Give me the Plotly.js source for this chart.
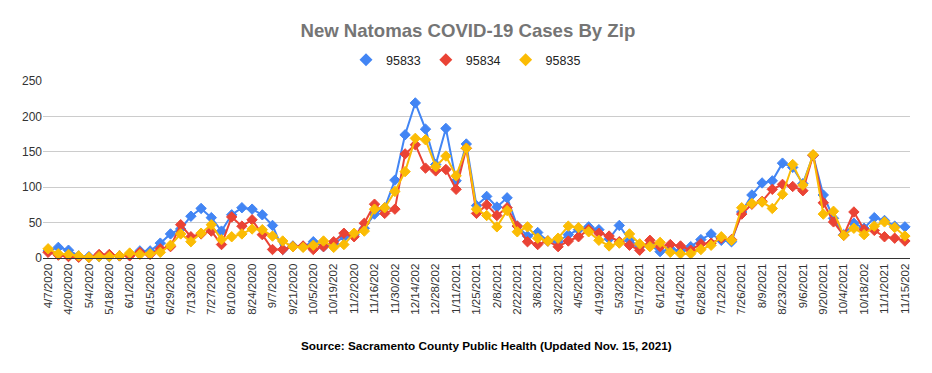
<!DOCTYPE html>
<html>
<head>
<meta charset="utf-8">
<script src="https://cdn.plot.ly/plotly-3.0.1.min.js"></script>
<style>html,body{margin:0;padding:0;background:#fff;}#chart{width:932px;height:373px;}</style>
</head>
<body>
<div id="chart"></div>
<script>
var dates = ["4/7/2020","4/13/2020","4/20/2020","4/27/2020","5/4/2020","5/11/2020","5/18/2020","5/25/2020","6/1/2020","6/8/2020","6/15/2020","6/22/2020","6/29/2020","7/6/2020","7/13/2020","7/20/2020","7/27/2020","8/3/2020","8/10/2020","8/17/2020","8/24/2020","8/31/2020","9/7/2020","9/14/2020","9/21/2020","9/28/2020","10/5/2020","10/12/2020","10/19/2020","10/26/2020","11/2/2020","11/9/2020","11/16/2020","11/23/2020","11/30/2020","12/7/2020","12/14/2020","12/21/2020","12/28/2020","1/4/2021","1/11/2021","1/18/2021","1/25/2021","2/1/2021","2/8/2021","2/15/2021","2/22/2021","3/1/2021","3/8/2021","3/15/2021","3/22/2021","3/29/2021","4/5/2021","4/12/2021","4/19/2021","4/26/2021","5/3/2021","5/10/2021","5/17/2021","5/24/2021","6/1/2021","6/7/2021","6/14/2021","6/21/2021","6/28/2021","7/5/2021","7/12/2021","7/19/2021","7/26/2021","8/2/2021","8/9/2021","8/16/2021","8/23/2021","8/30/2021","9/6/2021","9/13/2021","9/20/2021","9/27/2021","10/4/2021","10/11/2021","10/18/2021","10/25/2021","11/1/2021","11/8/2021","11/15/2021"];

var zip95833 = [10,15,11,3,2,2,2,3,5,10,10,21,34,41,59,70,57,38,61,71,69,61,46,12,17,16,23,16,20,30,33,42,62,71,110,174,219,182,132,183,109,161,74,87,72,85,45,31,36,24,23,33,40,44,40,27,46,25,16,18,9,13,10,16,26,34,25,23,65,89,106,109,134,128,105,145,89,56,33,49,42,57,53,45,44];
var zip95834 = [8,4,2,1,1,5,5,3,3,8,5,13,16,47,30,34,38,19,58,45,54,33,12,12,16,17,12,16,23,35,30,49,76,63,69,147,160,127,123,125,97,155,63,75,60,71,45,23,19,24,16,24,30,40,35,31,23,18,11,25,16,19,17,11,20,21,28,26,62,76,80,97,104,101,95,145,78,51,32,65,40,39,30,28,24];
var zip95835 = [13,6,5,3,1,2,2,3,7,5,6,8,18,34,23,35,47,26,30,34,41,40,31,24,16,15,18,24,15,19,35,38,69,71,94,122,169,167,129,144,116,155,69,60,44,67,37,44,28,24,28,45,43,37,25,17,21,34,20,16,22,8,6,6,12,18,30,25,71,77,79,70,90,132,103,146,62,66,32,42,33,45,51,43,31];

var seriesNames = ["95833","95834","95835"];
var seriesColors = ["#4285F4","#EA4335","#FBBC04"];

var tickDates = dates.filter(function(d, i){ return i % 2 === 0; });
var tickLabels = ["4/7/2020","4/20/2020","5/4/2020","5/18/2020","6/1/2020","6/15/2020","6/29/2020","7/13/2020","7/27/2020","8/10/2020","8/24/2020","9/7/2020","9/21/2020","10/5/2020","10/19/202","11/2/2020","11/16/202","11/30/202","12/14/202","12/28/202","1/11/2021","1/25/2021","2/8/2021","2/22/2021","3/8/2021","3/22/2021","4/5/2021","4/19/2021","5/3/2021","5/17/2021","6/1/2021","6/14/2021","6/28/2021","7/12/2021","7/26/2021","8/9/2021","8/23/2021","9/6/2021","9/20/2021","10/4/2021","10/18/202","11/1/2021","11/15/202"];

var allValues = [zip95833, zip95834, zip95835];
var traces = allValues.map(function(vals, k){
  return {
    type: 'scatter', mode: 'lines+markers', name: seriesNames[k], showlegend: false,
    x: dates, y: vals, cliponaxis: false,
    line: {color: seriesColors[k], width: 2},
    marker: {symbol: 'diamond', size: 8, color: seriesColors[k], line: {width: 1, color: seriesColors[k]}}
  };
});
// legend entries: marker only, as in the reference
seriesNames.forEach(function(n, k){
  traces.push({type: 'scatter', mode: 'markers', name: n, x: [null], y: [null], showlegend: true,
    marker: {symbol: 'diamond', size: 10, color: seriesColors[k]}});
});

var font = '"Liberation Sans", Arial, sans-serif';
var layout = {
  width: 932, height: 373,
  margin: {l: 43, r: 22, t: 81, b: 115},
  paper_bgcolor: '#fff', plot_bgcolor: '#fff',
  font: {family: font, color: '#333', size: 12},
  title: {text: '<b>New Natomas COVID-19 Cases By Zip</b>', font: {family: font, size: 18.6, color: '#757575'},
          x: 0.502, xref: 'container', xanchor: 'center', y: 1 - 30/373, yref: 'container', yanchor: 'middle'},
  showlegend: true,
  legend: {orientation: 'h', xref: 'container', yref: 'container', x: 0.5, xanchor: 'center', y: 1 - 60/373, yanchor: 'middle',
           font: {family: font, size: 12.5, color: '#222'}, bgcolor: 'rgba(0,0,0,0)', itemwidth: 30},
  xaxis: {type: 'category', categoryorder: 'array', categoryarray: dates, range: [-0.5, dates.length - 0.5],
          tickmode: 'array', tickvals: tickDates, ticktext: tickLabels, tickangle: -90,
          tickfont: {family: font, size: 11.5, color: '#333'}, showgrid: false, zeroline: false,
          showline: true, linecolor: '#333', linewidth: 1, ticks: ''},
  yaxis: {range: [0, 250], tickvals: [0,50,100,150,200,250], showgrid: true, gridcolor: '#cccccc', gridwidth: 1,
          zeroline: false, showline: false, ticks: '', tickfont: {family: font, size: 12, color: '#333'}},
  annotations: [{text: '<b>Source: Sacramento County Public Health (Updated Nov. 15, 2021)</b>', showarrow: false,
                 xref: 'paper', yref: 'paper', x: (487-43)/867, y: (258-345)/177, xanchor: 'center', yanchor: 'middle',
                 font: {family: font, size: 11.75, color: '#000'}}]
};

Plotly.newPlot('chart', traces, layout, {displayModeBar: false, staticPlot: true});
</script>
</body>
</html>
